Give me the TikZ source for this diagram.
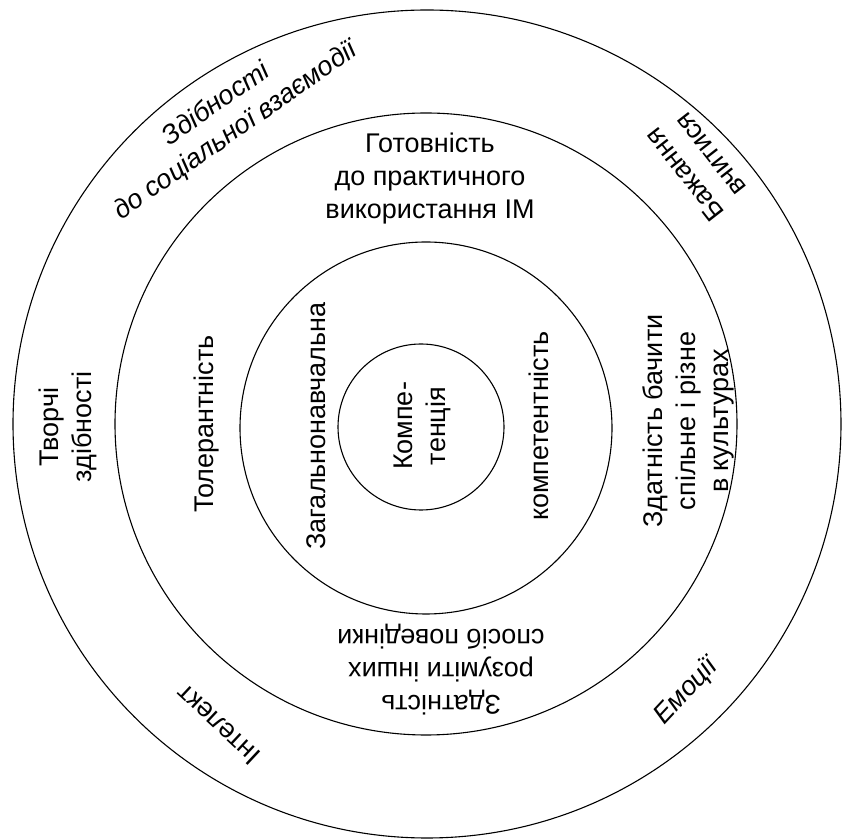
\documentclass[tikz,border=0pt]{standalone}
\usepackage{fontspec}
\setmainfont{Liberation Sans}
\begin{document}
\begin{tikzpicture}[x=0.5pt,y=-0.5pt,
  ring/.style={draw,circle,line width=0.55pt,inner sep=0pt},
  lbl/.style={font=\fontsize{13.5}{16.5}\selectfont,align=center,inner sep=0pt},
  lblit/.style={lbl,font=\fontsize{13.5}{16.5}\selectfont\itshape}]
\useasboundingbox (0,0) rectangle (843,839);
% rings, outside in
\node[ring,minimum size=414pt] (outer) at (427,424) {};
\node[ring,minimum size=311pt] (second) at (426,424) {};
\node[ring,minimum size=186pt] (third) at (426,428) {};
\node[ring,minimum size=83pt] (core) at (421,427) {};
% outer ring
\node[lblit,rotate=35] (social) at (226,118) {Здібності\\до соціальної взаємодії};
\node[lbl,rotate=128] (wish) at (697,165) {Бажання\\вчитися};
\node[lbl,rotate=90] (creative) at (68,427) {Творчі\\здібності};
\node[lbl,rotate=137] (intellect) at (218,725) {Інтелект};
\node[lblit,rotate=47] (emotion) at (686,692) {Емоції};
% second ring
\node[lbl] (ready) at (430,179) {Готовність\\до практичного\\використання ІМ};
\node[lbl,rotate=90] (toler) at (207,424) {Толерантність};
\node[lbl,rotate=90] (cult) at (688,421) {Здатність бачити\\спільне і різне\\в культурах};
\node[lbl,rotate=180] (under) at (441,670) {Здатність\\розуміти інших\\спосіб поведінки};
% third ring
\node[lbl,rotate=90] (general) at (316,426) {Загальнонавчальна};
\node[lbl,rotate=90] (compet) at (539,426) {компетентність};
% core
\node[lbl,rotate=90] (kern) at (422,426) {Компе-\\тенція};
\end{tikzpicture}
\end{document}
